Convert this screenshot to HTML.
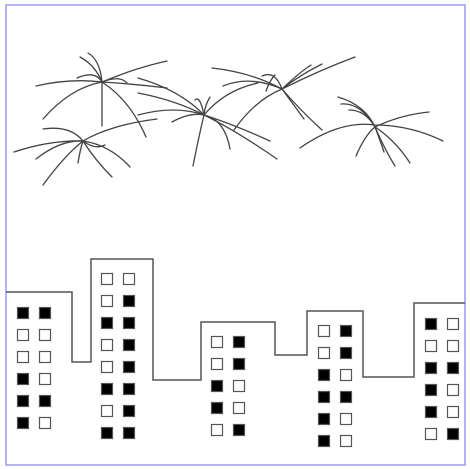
<!DOCTYPE html>
<html><head><meta charset="utf-8"><style>
html,body{margin:0;padding:0;background:#fff;}
svg{display:block;}
</style></head><body>
<svg width="470" height="469" viewBox="0 0 470 469" xmlns="http://www.w3.org/2000/svg">
<rect x="6" y="5" width="459" height="460" fill="#fff" stroke="#9999ff" stroke-width="1.5"/>
<g fill="none" stroke="#444" stroke-width="1.3" stroke-linecap="round">
<!-- F1 -->
<path d="M36 86 Q70 78 102 82 Q135 84 167 88"/>
<path d="M43 119 Q70 88 102 82 Q135 68 167 61"/>
<path d="M102 82 L102 126"/>
<path d="M102 82 Q130 100 146 137"/>
<path d="M80 57 Q95 65 102 82"/>
<path d="M88 53 Q100 60 102 82"/>
<path d="M77 78 Q95 70 102 82 Q120 75 127 83"/>
<!-- F2 -->
<path d="M14 152 Q50 140 83 141 Q110 145 130 167"/>
<path d="M43 185 Q65 155 83 141 Q110 125 157 119"/>
<path d="M83 141 Q95 160 112 177"/>
<path d="M36 159 Q60 140 83 141"/>
<path d="M43 129 Q70 125 83 141 Q95 150 105 145"/>
<path d="M78 163 Q80 150 83 141"/>
<!-- F3 -->
<path d="M138 78 Q180 90 204 115 Q235 130 277 159"/>
<path d="M138 93 Q175 100 204 115 Q235 125 270 141"/>
<path d="M138 115 Q175 105 204 115 Q225 90 258 83"/>
<path d="M204 115 Q198 140 193 166"/>
<path d="M172 122 Q190 112 204 115 Q225 120 230 149"/>
<path d="M195 100 Q200 95 204 115"/>
<path d="M210 97 Q205 105 204 115"/>
<!-- F4 -->
<path d="M212 68 Q250 72 282 89 Q300 110 322 130"/>
<path d="M223 86 Q250 75 282 89 Q290 100 304 119"/>
<path d="M234 130 Q255 100 282 89 Q320 70 355 57"/>
<path d="M282 89 Q300 75 322 64"/>
<path d="M282 89 Q300 72 311 65"/>
<path d="M266 91 Q270 80 275 75"/>
<path d="M262 76 Q275 70 282 89"/>
<!-- F5 -->
<path d="M300 148 Q340 120 375 125 Q410 125 443 141"/>
<path d="M375 127 Q400 115 429 112"/>
<path d="M338 97 Q365 105 375 127 Q385 150 395 166"/>
<path d="M356 156 Q365 135 375 127 Q395 140 410 163"/>
<path d="M341 104 Q360 102 375 127"/>
<path d="M349 110 Q365 110 375 127 Q380 140 384 152"/>
</g>
<polyline fill="none" stroke="#555" stroke-width="1.5" points="6,292 72,292 72,362 91,362 91,259 153,259 153,380 201,380 201,322 275,322 275,355 307,355 307,311 363,311 363,377 414,377 414,303 465,303"/>
<g id="w" stroke="#555" stroke-width="1.2"></g>
<script>
var B=[
 [[17,39],[307,329,351,373,395,417],["11","00","00","10","11","10"]],
 [[101,123],[273,295,317,339,361,383,405,427],["00","01","11","01","01","11","01","11"]],
 [[211,233],[336,358,380,402,424],["01","01","10","10","01"]],
 [[318,340],[325,347,369,391,413,435],["01","01","10","11","10","10"]],
 [[425,447],[318,340,362,384,406,428],["10","00","11","10","10","01"]]
];
var g=document.getElementById('w'),ns="http://www.w3.org/2000/svg";
B.forEach(function(b){b[1].forEach(function(y,i){b[0].forEach(function(x,j){
 var r=document.createElementNS(ns,'rect');r.setAttribute('x',x+0.5);r.setAttribute('y',y+0.5);
 r.setAttribute('width',11);r.setAttribute('height',11);
 r.setAttribute('fill',b[2][i][j]=='1'?'#000':'#fff');g.appendChild(r);});});});
</script>
</svg>
</body></html>
